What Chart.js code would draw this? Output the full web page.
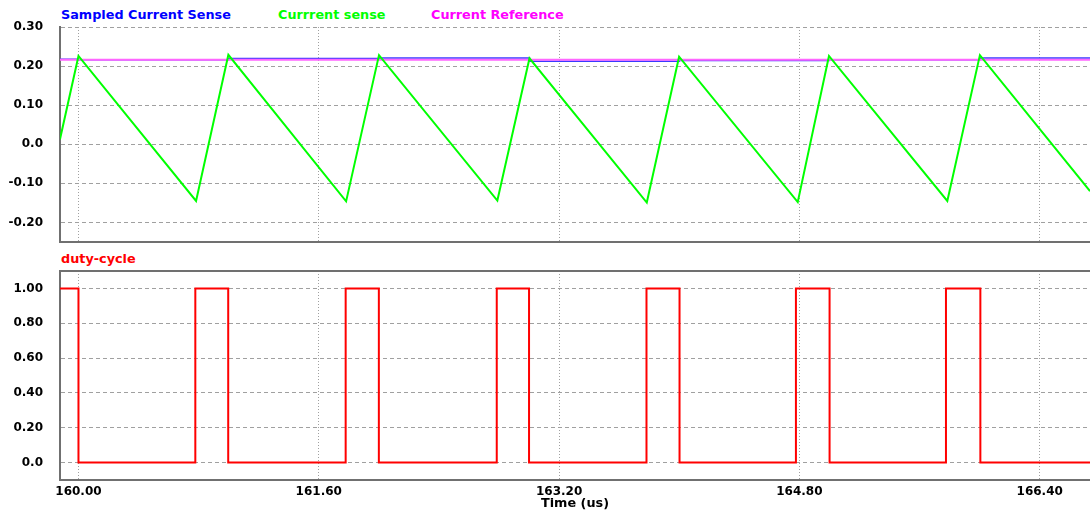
<!DOCTYPE html>
<html>
<head>
<meta charset="utf-8">
<script src="https://cdn.jsdelivr.net/npm/chart.js@4"></script>
<style>
  html, body { margin: 0; padding: 0; background: #ffffff; }
  body { width: 1090px; height: 511px; position: relative; overflow: hidden; font-family: "DejaVu Sans", sans-serif; }
  canvas { position: absolute; left: 0; }
  .lbl { position: absolute; font-family: "DejaVu Sans", sans-serif; font-weight: bold; font-size: 12.8px; line-height: 14px; white-space: nowrap; }
</style>
</head>
<body>
<div class="lbl" style="left:61px; top:8px; color:#0000ff;">Sampled Current Sense</div>
<div class="lbl" style="left:278px; top:8px; color:#00ff00;">Currrent sense</div>
<div class="lbl" style="left:431px; top:8px; color:#ff00ff;">Current Reference</div>
<div class="lbl" style="left:61px; top:252px; color:#ff0000;">duty-cycle</div>
<canvas id="top" width="1090" height="250" style="top:0px"></canvas>
<canvas id="bot" width="1090" height="261" style="top:250px"></canvas>
<script>
// ---- time axis ----
const tMin = 159.877;
const tMax = 166.735;
const timeTicks = [160.0, 161.6, 163.2, 164.8, 166.4];

// ---- top panel ----
const topYTicks = [-0.2, -0.1, 0.0, 0.1, 0.2, 0.3];
const topYMin = -0.25;
const topYMax = 0.30;

// Currrent sense (ramp)
const senseT = [159.877, 160.0, 160.783, 160.998, 161.782, 162.001, 162.789, 163.003, 163.784, 163.999, 164.789, 164.997, 165.785, 166.002, 166.735];
const senseV = [0.013, 0.226, -0.145, 0.229, -0.146, 0.228, -0.144, 0.220, -0.149, 0.224, -0.148, 0.226, -0.145, 0.228, -0.120];

// Sampled Current Sense (held value, each value held until next time)
const sampledT = [159.877, 160.0, 160.998, 162.001, 163.003, 163.999, 164.997, 166.002, 166.735];
const sampledV = [0.2175, 0.216, 0.2195, 0.221, 0.2125, 0.2145, 0.216, 0.221, 0.221];

// Current Reference
const refT = [159.877, 166.735];
const refV = [0.216, 0.216];

// ---- bottom panel ----
const botYTicks = [0.0, 0.2, 0.4, 0.6, 0.8, 1.0];
const botYMin = -0.1;
const botYMax = 1.1;
// duty-cycle edges (each level held until next time)
const dutyT = [159.877, 160.0, 160.778, 160.997, 161.779, 162.0, 162.785, 163.0, 163.782, 164.002, 164.777, 165.001, 165.776, 166.005, 166.735];
const dutyV = [1, 0, 1, 0, 1, 0, 1, 0, 1, 0, 1, 0, 1, 0, 0];

const pts = (ts, vs) => ts.map((t, i) => ({ x: t, y: vs[i] }));

const FONT = "'DejaVu Sans', sans-serif";
const GRID = '#a0a0a0';
const AXIS = '#707070';

function fixTicks(arr) {
  return function (scale) { scale.ticks = arr.map(v => ({ value: v })); };
}
function fitY(s) { s.width = 60; s.paddingTop = 0; s.paddingBottom = 0; }
function fitX(h) { return function (s) { s.height = h; s.paddingLeft = 0; s.paddingRight = 0; }; }

function yFmt(v) {
  if (Math.abs(v) < 1e-9) return '0.0';
  return v.toFixed(2);
}

Chart.defaults.animation = false;
Chart.defaults.font.family = FONT;

new Chart(document.getElementById('top'), {
  type: 'line',
  data: {
    datasets: [
      { label: 'Currrent sense', data: pts(senseT, senseV), borderColor: '#00ff00', borderWidth: 2, pointRadius: 0, tension: 0, order: 0 },
      { label: 'Current Reference', data: pts(refT, refV), borderColor: '#ff66ff', borderWidth: 2, pointRadius: 0, tension: 0, order: 1 },
      { label: 'Sampled Current Sense', data: pts(sampledT, sampledV), borderColor: '#3a3aff', borderWidth: 1.5, pointRadius: 0, stepped: 'before', order: 2 }
    ]
  },
  options: {
    responsive: false,
    animation: false,
    layout: { padding: { top: 27, right: 0, bottom: 0, left: 0 } },
    plugins: { legend: { display: false }, tooltip: { enabled: false } },
    scales: {
      x: {
        type: 'linear', min: tMin, max: tMax,
        afterBuildTicks: fixTicks(timeTicks),
        afterFit: fitX(8),
        ticks: { display: false },
        grid: { color: GRID, lineWidth: 1, drawTicks: false },
        border: { display: true, color: AXIS, width: 2, dash: [1, 2] }
      },
      y: {
        type: 'linear', min: topYMin, max: topYMax,
        afterBuildTicks: fixTicks(topYTicks),
        afterFit: fitY,
        ticks: { padding: 17, color: '#000', font: { size: 12, weight: 'bold', family: FONT }, callback: v => yFmt(v) },
        grid: { color: GRID, lineWidth: 1, drawTicks: false },
        border: { display: true, color: AXIS, width: 2, dash: [4, 3] }
      }
    }
  }
});

new Chart(document.getElementById('bot'), {
  type: 'line',
  data: {
    datasets: [
      { label: 'duty-cycle', data: pts(dutyT, dutyV), borderColor: '#ff0000', borderWidth: 2, pointRadius: 0, stepped: 'before' }
    ]
  },
  options: {
    responsive: false,
    animation: false,
    layout: { padding: { top: 21, right: 0, bottom: 0, left: 0 } },
    plugins: { legend: { display: false }, tooltip: { enabled: false } },
    scales: {
      x: {
        type: 'linear', min: tMin, max: tMax,
        afterBuildTicks: fixTicks(timeTicks),
        afterFit: fitX(31),
        ticks: { padding: 5, color: '#000', maxRotation: 0, font: { size: 12, weight: 'bold', family: FONT }, callback: v => v.toFixed(2) },
        title: { display: true, text: 'Time (us)', color: '#000', font: { size: 12.8, weight: 'bold', family: FONT }, padding: { top: 0, bottom: 0 } },
        grid: { color: GRID, lineWidth: 1, drawTicks: false },
        border: { display: true, color: AXIS, width: 2, dash: [1, 2] }
      },
      xTop: {
        type: 'linear', position: 'top', min: tMin, max: tMax,
        afterFit: fitX(0),
        ticks: { display: false },
        grid: { display: false, drawTicks: false },
        border: { display: true, color: AXIS, width: 2 }
      },
      y: {
        type: 'linear', min: botYMin, max: botYMax,
        afterBuildTicks: fixTicks(botYTicks),
        afterFit: fitY,
        ticks: { padding: 17, color: '#000', font: { size: 12, weight: 'bold', family: FONT }, callback: v => yFmt(v) },
        grid: { color: GRID, lineWidth: 1, drawTicks: false },
        border: { display: true, color: AXIS, width: 2, dash: [4, 3] }
      }
    }
  }
});
</script>
</body>
</html>
